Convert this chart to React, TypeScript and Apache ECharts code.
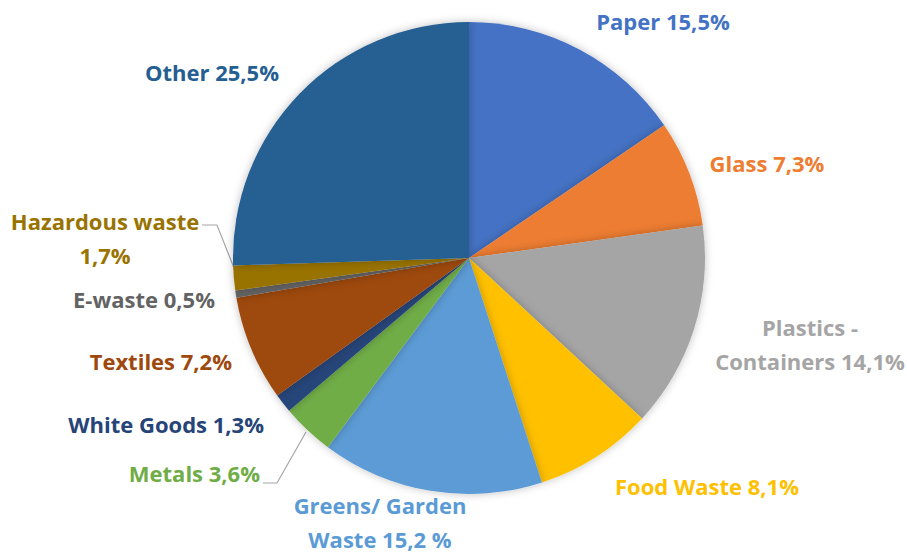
import React, { useEffect, useRef } from "react";
import * as echarts from "echarts";

const categories = [
  "Paper",
  "Glass",
  "Plastics -\nContainers",
  "Food Waste",
  "Greens/ Garden\nWaste",
  "Metals",
  "White Goods",
  "Textiles",
  "E-waste",
  "Hazardous waste\n",
  "Other",
];
const valueLabels = ["15,5%", "7,3%", "14,1%", "8,1%", "15,2 %", "3,6%", "1,3%", "7,2%", "0,5%", "1,7%", "25,5%"];
const values = [15.5, 7.3, 14.1, 8.1, 15.2, 3.6, 1.3, 7.2, 0.5, 1.7, 25.5];
const colors = [
  "#4472C4", "#ED7D31", "#A5A5A5", "#FFC000", "#5B9BD5", "#70AD47",
  "#264478", "#9E480E", "#636363", "#997300", "#255E91",
];

// label layout (pixel anchor positions)
const labelPos: { x: number; y: number; align: string }[] = [
  { x: 663, y: 21, align: "center" },
  { x: 767, y: 163, align: "center" },
  { x: 810, y: 344, align: "center" },
  { x: 707, y: 486, align: "center" },
  { x: 380, y: 522, align: "center" },
  { x: 260, y: 473, align: "right" },
  { x: 264, y: 424, align: "right" },
  { x: 232, y: 361, align: "right" },
  { x: 215, y: 299, align: "right" },
  { x: 105, y: 238, align: "center" },
  { x: 212, y: 72, align: "center" },
];
const linePts: Record<number, number[][]> = {
  5: [[263, 483], [277, 483], [306, 432]],
  9: [[202, 225], [217, 225], [234, 268]],
};

export default function App() {
  const ref = useRef<HTMLDivElement>(null);
  useEffect(() => {
    const chart = echarts.init(ref.current!, null, { renderer: "svg" });
    chart.setOption({
      animation: false,
      backgroundColor: "#ffffff",
      series: [
        {
          type: "pie",
          center: [469, 258],
          radius: 236,
          startAngle: 90,
          clockwise: true,
          avoidLabelOverlap: false,
          itemStyle: {
            shadowBlur: 8,
            shadowColor: "rgba(0,0,0,0.25)",
            borderWidth: 0,
          },
          label: {
            show: true,
            fontFamily: "Open Sans",
            fontWeight: "bold",
            fontSize: 22,
            lineHeight: 34,
          },
          labelLine: { show: false },
          labelLayout: (p: any) => {
            const lp = labelPos[p.dataIndex];
            const res: any = {
              x: lp.x,
              y: lp.y,
              align: lp.align,
              verticalAlign: "middle",
            };
            if (linePts[p.dataIndex]) res.labelLinePoints = linePts[p.dataIndex];
            return res;
          },
          data: values.map((v, i) => {
            const name = categories[i];
            const lbl = name.endsWith("\n") ? name + valueLabels[i] : name + " " + valueLabels[i];
            return {
              value: v,
              name,
              itemStyle: { color: colors[i] },
              label: { formatter: lbl, color: colors[i] },
              labelLine: linePts[i]
                ? { show: true, length: 10, length2: 10, lineStyle: { color: "#A6A6A6", width: 1.2 } }
                : { show: false },
            };
          }),
        },
      ],
    });
    return () => chart.dispose();
  }, []);
  return (
    <div
      ref={ref}
      style={{ position: "absolute", left: 0, top: 0, width: 907, height: 556 }}
    />
  );
}
